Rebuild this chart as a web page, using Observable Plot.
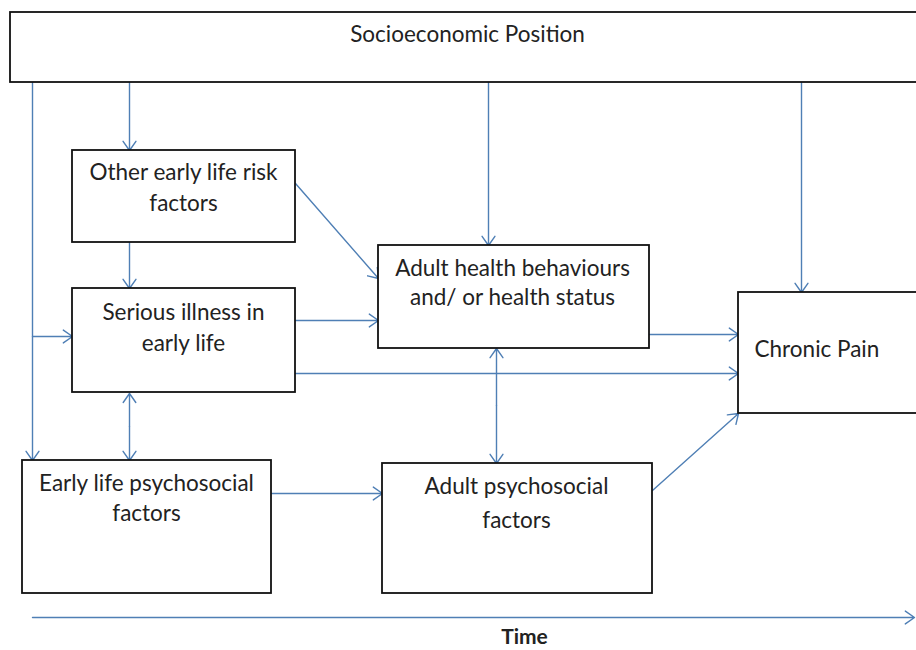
<!DOCTYPE html>
<html>
<head>
<meta charset="utf-8">
<script src="https://cdn.jsdelivr.net/npm/d3@7"></script>
<script src="https://cdn.jsdelivr.net/npm/@observablehq/plot@0.6"></script>
<style>
  html, body { margin: 0; padding: 0; background: #fff; }
  #chart svg { display: block; overflow: hidden; }
</style>
</head>
<body>
<div id="chart"></div>
<script>
// Boxes of the conceptual diagram (pixel coordinates)
const boxNames = ["Socioeconomic Position", "Other early life risk factors", "Serious illness in early life",
  "Early life psychosocial factors", "Adult health behaviours and/ or health status",
  "Adult psychosocial factors", "Chronic Pain"];
const boxX1 = [10, 72, 72, 22, 378, 382, 738];
const boxY1 = [12, 150, 288, 460, 245, 463, 292];
const boxX2 = [924, 295, 295, 271, 649, 652, 924];
const boxY2 = [82, 242, 392, 593, 348, 593, 413];

// Arrows (start -> end)
const arrowX1 = [32, 32, 129, 129, 129, 295, 295, 295, 488, 801, 649, 496, 496, 271, 652, 32];
const arrowY1 = [82, 336, 82, 242, 426, 183, 320, 373, 82, 82, 334, 405, 405, 493, 490, 617];
const arrowX2 = [32, 72, 129, 129, 129, 378, 378, 738, 488, 801, 738, 496, 496, 382, 738, 914];
const arrowY2 = [460, 336, 150, 288, 393, 278, 320, 373, 245, 292, 334, 348, 463, 493, 413, 617];
// second half of the double-headed arrow between serious illness and early life psychosocial factors
const extraX1 = [129], extraY1 = [426], extraX2 = [129], extraY2 = [460];

// Labels
const labelText = ["Socioeconomic Position", "Other early life risk", "factors", "Serious illness in", "early life",
  "Adult health behaviours", "and/ or health status", "Chronic Pain", "Early life psychosocial", "factors",
  "Adult psychosocial", "factors"];
const labelX = [467, 183, 183, 183, 183, 512, 512, 754, 146, 146, 516, 516];
const labelY = [34, 172, 203, 312, 343, 268, 297, 349, 483, 513, 486, 520];
const labelAnchor = ["middle", "middle", "middle", "middle", "middle", "middle", "middle", "start", "middle", "middle", "middle", "middle"];
const axisLabel = "Time";

const boxes = boxNames.map((n, i) => ({name: n, x1: boxX1[i], y1: boxY1[i], x2: boxX2[i], y2: boxY2[i]}));
const arrows = arrowX1.map((x, i) => ({x1: x, y1: arrowY1[i], x2: arrowX2[i], y2: arrowY2[i]}))
  .concat(extraX1.map((x, i) => ({x1: x, y1: extraY1[i], x2: extraX2[i], y2: extraY2[i]})));
const labels = labelText.map((t, i) => ({text: t, x: labelX[i], y: labelY[i], anchor: labelAnchor[i]}));

const blue = "#4f7fb5";
const font = "Lato, 'Open Sans', sans-serif";

const chart = Plot.plot({
  width: 916,
  height: 650,
  margin: 0,
  x: {domain: [0, 916], range: [0, 916], axis: null},
  y: {domain: [0, 650], range: [0, 650], axis: null},
  style: {fontFamily: font, background: "#fff"},
  marks: [
    Plot.arrow(arrows, {x1: "x1", y1: "y1", x2: "x2", y2: "y2", stroke: blue, strokeWidth: 1.4,
      headLength: 12, headAngle: 70, bend: 0}),
    Plot.rect(boxes, {x1: "x1", y1: "y1", x2: "x2", y2: "y2", fill: "#fff", stroke: "#111", strokeWidth: 1.8}),
    Plot.text(labels.filter(d => d.anchor === "middle"), {x: "x", y: "y", text: "text", textAnchor: "middle",
      fontSize: 22.5, fill: "#222"}),
    Plot.text(labels.filter(d => d.anchor === "start"), {x: "x", y: "y", text: "text", textAnchor: "start",
      fontSize: 22.5, fill: "#222"}),
    Plot.text([{text: axisLabel, x: 524, y: 637}], {x: "x", y: "y", text: "text", fontSize: 21,
      fontWeight: "bold", fill: "#222"})
  ]
});
document.getElementById("chart").appendChild(chart);
</script>
</body>
</html>
